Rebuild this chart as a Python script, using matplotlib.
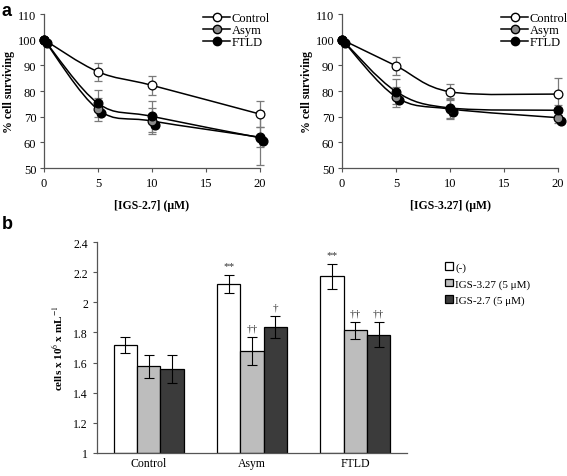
import numpy as np
import matplotlib
matplotlib.use("Agg")
import matplotlib.pyplot as plt
from matplotlib.path import Path
from matplotlib.patches import PathPatch
from matplotlib.lines import Line2D
import matplotlib.transforms as mtransforms

plt.rcParams['font.family'] = ['Liberation Serif', 'DejaVu Serif']
plt.rcParams['mathtext.fontset'] = 'stix'

# ---------------- data ----------------
conc = [0, 5, 10, 20]
series_names = ["Control", "Asym", "FTLD"]

# panel a, left: IGS-2.7
left_control = [100, 87.5, 82.2, 71.0]
left_control_err = [0, 3.6, 3.8, 5.2]
left_asym = [100, 72.8, 68.3, 62.0]
left_asym_err = [0, 4.5, 5.0, 4.0]
left_ftld = [100, 75.2, 70.1, 61.8]
left_ftld_err = [0, 5.3, 6.0, 10.5]

# panel a, right: IGS-3.27
right_control = [100, 89.8, 79.7, 78.8]
right_control_err = [0, 3.5, 3.2, 6.2]
right_asym = [100, 77.7, 73.0, 69.6]
right_asym_err = [0, 3.8, 4.0, 2.0]
right_ftld = [100, 79.8, 73.4, 72.5]
right_ftld_err = [0, 5.0, 4.0, 2.0]

# panel b
groups = ["Control", "Asym", "FTLD"]
treatments = ["(-)", "IGS-3.27 (5 μM)", "IGS-2.7 (5 μM)"]
cells_none = [1.715, 2.122, 2.172]
cells_none_err = [0.053, 0.060, 0.082]
cells_327 = [1.575, 1.676, 1.813]
cells_327_err = [0.075, 0.092, 0.055]
cells_27 = [1.556, 1.836, 1.785]
cells_27_err = [0.093, 0.072, 0.082]
marks_none = ["", "**", "**"]
marks_327 = ["", "††", "††"]
marks_27 = ["", "†", "††"]

W, H = 567, 477
fig = plt.figure(figsize=(W / 100, H / 100), dpi=100)

def fx(px):
    return px / W

def fy(py):
    return 1 - py / H

def smooth_path(xs, ys):
    pts = np.column_stack([xs, ys]).astype(float)
    n = len(pts)
    verts = [pts[0]]
    codes = [Path.MOVETO]
    for i in range(n - 1):
        p0 = pts[i - 1] if i > 0 else pts[i]
        p1 = pts[i]
        p2 = pts[i + 1]
        p3 = pts[i + 2] if i + 2 < n else pts[i + 1]
        c1 = p1 + (p2 - p0) / 6.0
        c2 = p2 - (p3 - p1) / 6.0
        verts += [c1, c2, p2]
        codes += [Path.CURVE4] * 3
    return Path(verts, codes)

styles = {
    "Control": dict(mfc="white"),
    "Asym": dict(mfc="#8a8a8a"),
    "FTLD": dict(mfc="black"),
}

def panel_a(ax, data, xlabel):
    ax.set_xlim(0, 20)
    ax.set_ylim(50, 110)
    for name, (vals, errs) in zip(series_names, data):
        ax.add_patch(PathPatch(smooth_path(conc, vals), fill=False,
                               ec="black", lw=1.1, zorder=2, clip_on=False))
        eb = ax.errorbar(conc, vals, yerr=errs, fmt="none", ecolor="#7a7a7a",
                         elinewidth=0.9, capsize=3, capthick=0.9, zorder=1)
        for art in eb.lines[1]:
            art.set_clip_on(False)
        for art in eb.lines[2]:
            art.set_clip_on(False)
    # black shadow dots beneath the Asym markers
    asym_vals = data[1][0]
    shadow = mtransforms.offset_copy(ax.transData, fig=fig, x=2.5, y=-2.5, units="points")
    ax.plot(conc, asym_vals, "o", ms=6.3, mfc="black", mec="black",
            transform=shadow, zorder=3, clip_on=False)
    for name, (vals, errs) in zip(series_names, data):
        ax.plot(conc, vals, "o", ms=6.3, mec="black", mew=0.9,
                zorder=4, clip_on=False, **styles[name])
    for s in ["top", "right"]:
        ax.spines[s].set_visible(False)
    for s in ["left", "bottom"]:
        ax.spines[s].set_color("#555555")
        ax.spines[s].set_linewidth(0.9)
    ax.set_xticks([0, 5, 10, 15, 20])
    ax.set_yticks(np.arange(50, 111, 10))
    ax.tick_params(axis="both", labelsize=9, length=3, width=0.8, color="#555555")
    ax.tick_params(axis="y", pad=2.5)
    ax.set_xlabel(xlabel, fontsize=8.5, fontweight="bold", labelpad=7)
    ax.set_ylabel("% cell surviving", fontsize=8.5, fontweight="bold", labelpad=2)
    handles = [Line2D([], [], color="black", lw=1.1, marker="o", ms=6,
                      mec="black", **styles[n]) for n in series_names]
    ax.legend(handles, series_names, loc="upper right", bbox_to_anchor=(1.08, 1.06),
              frameon=False, fontsize=9, handlelength=2.2, handletextpad=0.1,
              labelspacing=0.0, borderaxespad=0.2)

axL = fig.add_axes([fx(44), fy(169), fx(260 - 44), (169 - 15) / H])
panel_a(axL, [(left_control, left_control_err), (left_asym, left_asym_err),
              (left_ftld, left_ftld_err)], "[IGS-2.7] (μM)")
axR = fig.add_axes([fx(342), fy(169), fx(558 - 342), (169 - 15) / H])
panel_a(axR, [(right_control, right_control_err), (right_asym, right_asym_err),
              (right_ftld, right_ftld_err)], "[IGS-3.27] (μM)")

# ---------------- panel b ----------------
axB = fig.add_axes([fx(97), fy(454), fx(407 - 97), (454 - 243) / H])
x = np.arange(len(groups))
bw = 0.225
bar_sets = [
    (cells_none, cells_none_err, "white", marks_none),
    (cells_327, cells_327_err, "#bdbdbd", marks_327),
    (cells_27, cells_27_err, "#3b3b3b", marks_27),
]
for k, (vals, errs, col, marks) in enumerate(bar_sets):
    xpos = x + (k - 1) * bw
    axB.bar(xpos, np.array(vals) - 1, bottom=1, width=bw, color=col,
            edgecolor="black", linewidth=0.9, label=treatments[k], zorder=2)
    axB.errorbar(xpos, vals, yerr=errs, fmt="none", ecolor="black",
                 elinewidth=0.8, capsize=3.5, capthick=0.8, zorder=3)
    for xi, v, e, m in zip(xpos, vals, errs, marks):
        if m:
            axB.text(xi, v + e + 0.03, m, ha="center", va="bottom", fontsize=8,
                     color="#333333")
axB.set_xlim(-0.5, 2.5)
axB.set_ylim(1, 2.4)
axB.set_yticks([1, 1.2, 1.4, 1.6, 1.8, 2, 2.2, 2.4])
axB.set_yticklabels(["1", "1.2", "1.4", "1.6", "1.8", "2", "2.2", "2.4"])
axB.set_xticks(x)
axB.set_xticklabels(groups)
axB.tick_params(axis="y", labelsize=8.5, length=3, width=0.8, color="#555555")
axB.tick_params(axis="x", labelsize=8.5, length=0, pad=3)
for s in ["top", "right"]:
    axB.spines[s].set_visible(False)
for s in ["left", "bottom"]:
    axB.spines[s].set_color("#555555")
    axB.spines[s].set_linewidth(0.9)
axB.set_ylabel(r"cells x 10$^{6}$ x mL$^{-1}$", fontsize=8, fontweight="bold", labelpad=6)
axB.legend(loc="upper left", bbox_to_anchor=(fx(441), fy(259)), bbox_transform=fig.transFigure,
           frameon=False, fontsize=8, handlelength=0.7, handleheight=0.7,
           handletextpad=0.2, labelspacing=0.55, borderaxespad=0)

fig.text(fx(2), fy(3), "a", fontsize=13, fontweight="bold", family="Liberation Sans",
         va="top", ha="left")
fig.text(fx(2), fy(216), "b", fontsize=13, fontweight="bold", family="Liberation Sans",
         va="top", ha="left")

fig.savefig("out.png", dpi=100)
